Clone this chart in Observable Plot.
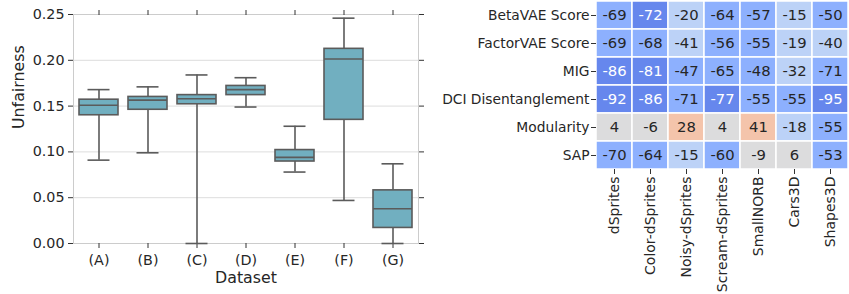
<!DOCTYPE html>
<html>
<head>
<meta charset="utf-8">
<script src="https://cdn.jsdelivr.net/npm/d3@7"></script>
<script src="https://cdn.jsdelivr.net/npm/@observablehq/plot@0.6"></script>
<style>
  html, body { margin: 0; padding: 0; background: #ffffff; }
  #wrap { position: relative; width: 849px; height: 294px; overflow: hidden; }
  #wrap svg { position: absolute; top: 0; }
</style>
</head>
<body>
<div id="wrap"></div>
<script>
// ---- Left panel: box plot data ----
const datasets = ["(A)", "(B)", "(C)", "(D)", "(E)", "(F)", "(G)"];
const whiskerLow  = [0.091, 0.099, 0.000, 0.149, 0.078, 0.047, 0.000];
const q1          = [0.140, 0.146, 0.152, 0.162, 0.0895, 0.135, 0.017];
const median      = [0.151, 0.1565, 0.158, 0.168, 0.094, 0.2015, 0.038];
const q3          = [0.157, 0.160, 0.162, 0.172, 0.102, 0.2125, 0.058];
const whiskerHigh = [0.168, 0.171, 0.184, 0.181, 0.128, 0.246, 0.087];
const yTicks = [0, 0.05, 0.10, 0.15, 0.20, 0.25];

// ---- Right panel: heatmap data ----
const metrics = ["BetaVAE Score", "FactorVAE Score", "MIG", "DCI Disentanglement", "Modularity", "SAP"];
const datasetNames = ["dSprites", "Color-dSprites", "Noisy-dSprites", "Scream-dSprites", "SmallNORB", "Cars3D", "Shapes3D"];
const values = [
  [-69, -72, -20, -64, -57, -15, -50],
  [-69, -68, -41, -56, -55, -19, -40],
  [-86, -81, -47, -65, -48, -32, -71],
  [-92, -86, -71, -77, -55, -55, -95],
  [4, -6, 28, 4, 41, -18, -55],
  [-70, -64, -15, -60, -9, 6, -53]
];
const colorThresholds = [-71.5, -44, -12, 15];
const colorRange = ["#6687ed", "#8db0fe", "#bcd2f7", "#dcdcdd", "#f4c4ab"];

const font = "DejaVu Sans, sans-serif";
const textColor = "#262626";
const boxFill = "#71afc0";
const lineColor = "#5b5b5b";

const boxes = datasets.map((name, i) => ({
  name, lo: whiskerLow[i], q1: q1[i], med: median[i], q3: q3[i], hi: whiskerHigh[i]
}));

const left = Plot.plot({
  width: 430,
  height: 294,
  marginLeft: 73,
  marginRight: 12,
  marginTop: 14,
  marginBottom: 51,
  style: { fontFamily: font, fontSize: "14px", color: textColor, background: "transparent", overflow: "visible" },
  x: { domain: datasets, paddingInner: 0.2, paddingOuter: 0.1, label: null },
  y: { domain: [0, 0.25], label: null },
  marks: [
    Plot.gridY(yTicks, { stroke: "#dddddd", strokeOpacity: 1, strokeWidth: 1 }),
    Plot.frame({ stroke: "#cccccc", strokeWidth: 1 }),
    Plot.axisY({ ticks: yTicks, tickFormat: d3.format(".2f"), tickSize: 5, tickPadding: 4, label: null, fontSize: 14.3, stroke: "#333" }),
    Plot.axisY({ anchor: "right", ticks: yTicks, tickFormat: () => "", tickSize: 5, label: null, stroke: "#333" }),
    Plot.axisX({ anchor: "bottom", tickSize: 5, tickPadding: 6, label: null, fontSize: 14.3, stroke: "#333" }),
    Plot.axisX({ anchor: "top", tickSize: 5, tickFormat: () => "", label: null, stroke: "#333" }),
    Plot.ruleX(boxes, { x: "name", y1: "q3", y2: "hi", stroke: lineColor, strokeWidth: 1.6 }),
    Plot.ruleX(boxes, { x: "name", y1: "lo", y2: "q1", stroke: lineColor, strokeWidth: 1.6 }),
    Plot.tickY(boxes, { x: "name", y: "hi", stroke: lineColor, strokeWidth: 1.6, insetLeft: 8.5, insetRight: 8.5 }),
    Plot.tickY(boxes, { x: "name", y: "lo", stroke: lineColor, strokeWidth: 1.6, insetLeft: 8.5, insetRight: 8.5 }),
    Plot.barY(boxes, { x: "name", y1: "q1", y2: "q3", fill: boxFill, stroke: lineColor, strokeWidth: 1.6 }),
    Plot.tickY(boxes, { x: "name", y: "med", stroke: lineColor, strokeWidth: 1.6 }),
    Plot.text(["Unfairness"], { frameAnchor: "left", dx: -55, rotate: -90, fontSize: 15.8, fill: textColor }),
    Plot.text(["Dataset"], { frameAnchor: "bottom", dy: 39, fontSize: 15.8, fill: textColor })
  ]
});
left.style.left = "0px";

const cells = [];
metrics.forEach((m, r) => datasetNames.forEach((d, c) => cells.push({ metric: m, dataset: d, v: values[r][c] })));
const darkLimit = colorThresholds[0];

const right = Plot.plot({
  width: 419,
  height: 294,
  marginLeft: 166,
  marginRight: 1,
  marginTop: 1,
  marginBottom: 125,
  style: { fontFamily: font, fontSize: "13.8px", color: textColor, background: "transparent", overflow: "visible" },
  x: { domain: datasetNames, padding: 0, label: null },
  y: { domain: metrics, padding: 0, label: null },
  color: { type: "threshold", domain: colorThresholds, range: colorRange },
  marks: [
    Plot.cell(cells, { x: "dataset", y: "metric", fill: "v", stroke: "white", strokeWidth: 1.5 }),
    Plot.text(cells.filter(d => d.v < darkLimit), { x: "dataset", y: "metric", text: d => String(d.v), fill: "white", fontSize: 14.8 }),
    Plot.text(cells.filter(d => d.v >= darkLimit), { x: "dataset", y: "metric", text: d => String(d.v), fill: textColor, fontSize: 14.8 }),
    Plot.axisY({ tickSize: 5, tickPadding: 2, label: null, fontSize: 13.8, stroke: "#333" }),
    Plot.axisX({ tickSize: 5, tickPadding: 2, tickRotate: -90, label: null, fontSize: 14, stroke: "#333" })
  ]
});
right.style.left = "430px";

const wrap = document.getElementById("wrap");
wrap.appendChild(left);
wrap.appendChild(right);
</script>
</body>
</html>
